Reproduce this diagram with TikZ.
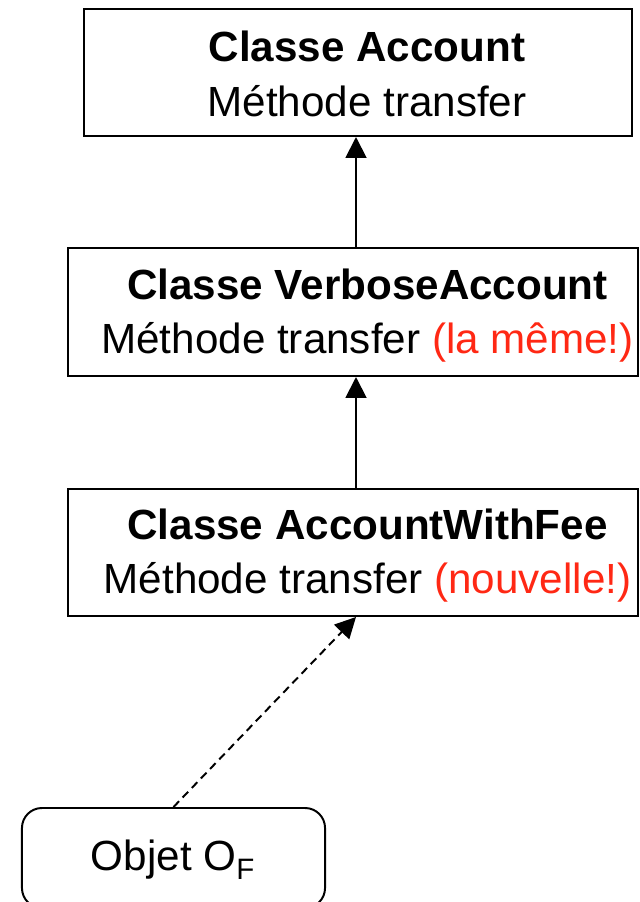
\documentclass[tikz,border=0pt]{standalone}
\usepackage{fontspec}
\setmainfont{Liberation Sans}
\usetikzlibrary{arrows.meta}
\definecolor{notered}{RGB}{255,40,20}

\begin{document}
\begin{tikzpicture}[x=0.025cm, y=-0.025cm]

\useasboundingbox (0,0) rectangle (639,902);

% styles
\pgfkeys{/tikz/inherit/.style={line width=1.4pt, -{Triangle[length=0.52cm, width=0.52cm]}}} % arrowheads
\pgfkeys{/tikz/boxline/.style={draw, line width=1.4pt, inner sep=0}} % base style for boxes
\pgfkeys{/tikz/classbox/.style={boxline, rectangle}} % class boxes
\pgfkeys{/tikz/objbox/.style={boxline, rectangle, rounded corners=0.5cm, minimum width=7.575cm, minimum height=2.5cm}} % object box
\pgfkeys{/tikz/boxtext/.style={inner sep=0, align=center, font=\fontsize{30}{39}\selectfont}} % texts
\newcommand{\rem}[1]{\textcolor{notered}{#1}}

% centres of the boxes
\coordinate (c1) at (358,72.5);
\coordinate (c2) at (353,312);
\coordinate (c3) at (353,552.5);
\coordinate (c4) at (173.5,858);
% column of the arrows
\coordinate (ax) at (356,0);

% boxes
\node[classbox, minimum width=13.7cm, minimum height=3.175cm] (account) at (c1) {};
\node[classbox, minimum width=14.25cm, minimum height=3.2cm] (verbose) at (c2) {};
\node[classbox, minimum width=14.25cm, minimum height=3.175cm] (withfee) at (c3) {};
\node[objbox] (objet) at (c4) {};

% texts
\node[boxtext] (accountT) at (367,73.5) {\textbf{Classe Account}\\Méthode transfer};
\node[boxtext] (verboseT) at (367.5,315.5) {\textbf{Classe VerboseAccount}\\Méthode transfer \rem{(la même!)}};
\node[boxtext] (withfeeT) at (367.5,555.5) {\textbf{Classe AccountWithFee}\\Méthode transfer \rem{(nouvelle!)}};
\node[boxtext] (objetT) at (173,860) {Objet O\textsubscript{F}};

% inheritance
\draw[inherit] (verbose.north -| ax) -- (account.south -| ax);
\draw[inherit] (withfee.north -| ax) -- (verbose.south -| ax);
% instance of
\draw[inherit, dash pattern=on 0.2cm off 0.13cm] (objet.north) -- (withfee.south -| ax);

\end{tikzpicture}
\end{document}
